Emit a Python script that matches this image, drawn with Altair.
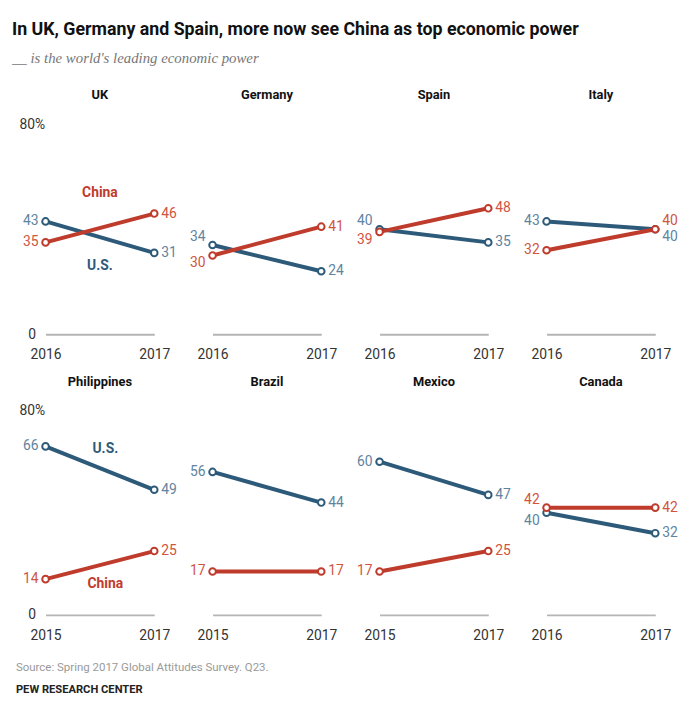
import altair as alt
import pandas as pd

panels = ["UK", "Germany", "Spain", "Italy", "Philippines", "Brazil", "Mexico", "Canada"]
start_year = [2016, 2016, 2016, 2016, 2015, 2015, 2015, 2016]
end_year = 2017
us_start = [43, 34, 40, 43, 66, 56, 60, 40]
us_end = [31, 24, 35, 40, 49, 44, 47, 32]
china_start = [35, 30, 39, 32, 14, 17, 17, 42]
china_end = [46, 41, 48, 40, 25, 17, 25, 42]

ann_panel = ["UK", "UK", "Philippines", "Philippines"]
ann_series = ["China", "U.S.", "U.S.", "China"]
ann_year = [2016.5, 2016.5, 2016.1, 2016.1]
ann_value = [54, 26, 65, 12]

BLUE = "#2E5A7A"
RED = "#BF3B2C"
BLUE_L = "#5F84A0"
RED_L = "#D0553F"
NARROW = "Liberation Sans Narrow, Arial Narrow, Roboto, sans-serif"
BODY = "Liberation Sans Narrow, Roboto, sans-serif"

rows = []
for i, p in enumerate(panels):
    pairs = {
        "start": (start_year[i], us_start[i], china_start[i]),
        "end": (end_year, us_end[i], china_end[i]),
    }
    for side, (yr, u, c) in pairs.items():
        diff = c - u
        if abs(diff) < 5:
            c_n = "up" if diff >= 0 else "down"
            u_n = "down" if diff >= 0 else "up"
        else:
            c_n = u_n = "none"
        rows.append(dict(panel=p, series="U.S.", year=yr, value=u, side=side, nudge=u_n, order=0))
        rows.append(dict(panel=p, series="China", year=yr, value=c, side=side, nudge=c_n, order=1))
df = pd.DataFrame(rows)
ann = pd.DataFrame(dict(panel=ann_panel, series=ann_series, year=ann_year, value=ann_value))

color_scale = alt.Scale(domain=["U.S.", "China"], range=[BLUE, RED])


def panel_chart(i):
    p = panels[i]
    d = df[df.panel == p]
    first_col = i % 4 == 0
    h = 223 if i < 4 else 217
    x = alt.X(
        "year:Q",
        scale=alt.Scale(domain=[start_year[i], end_year], nice=False, zero=False),
        axis=alt.Axis(values=[start_year[i], end_year], format="d", title=None, grid=False,
                      ticks=False, tickSize=0, domainColor="#b5b5b5", domainWidth=2,
                      labelFontSize=14, labelColor="#333", labelPadding=14, labelFlush=False,
                      labelFont=BODY),
    )
    if first_col:
        yaxis = alt.Axis(values=[0, 80], labelExpr="datum.value == 80 ? '80%' : datum.label",
                         title=None, grid=False, ticks=False, tickSize=0, domain=False,
                         labelAlign="center", labelPadding=14, labelFontSize=14,
                         labelColor="#333", labelFont=BODY)
    else:
        yaxis = None
    y = alt.Y("value:Q", scale=alt.Scale(domain=[0, 84], nice=False), axis=yaxis)
    base = alt.Chart(d).encode(
        x=x, y=y,
        color=alt.Color("series:N", scale=color_scale, legend=None),
        order=alt.Order("order:Q"),
    )
    layers = [
        base.mark_line(strokeWidth=4),
        base.mark_point(shape="circle", size=45, strokeWidth=2, fill="white", fillOpacity=1, opacity=1),
    ]
    for side, align, dx in [("start", "right", -7), ("end", "left", 7)]:
        for nudge, dy in [("none", 0), ("up", -8), ("down", 8)]:
            sub = base.transform_filter(
                (alt.datum.side == side) & (alt.datum.nudge == nudge)
            ).mark_text(align=align, baseline="middle", dx=dx, dy=dy, fontSize=14, font=BODY).encode(
                text=alt.Text("value:Q"),
                color=alt.condition(alt.datum.series == "China", alt.value(RED_L), alt.value(BLUE_L)),
            )
            layers.append(sub)
    a = ann[ann.panel == p]
    if len(a):
        layers.append(
            alt.Chart(a).mark_text(fontSize=14, fontWeight="bold", font=NARROW, align="center", baseline="middle").encode(
                x="year:Q", y="value:Q", text="series:N",
                color=alt.Color("series:N", scale=color_scale, legend=None),
            )
        )
    return alt.layer(*layers).properties(
        width=110, height=h,
        title=alt.TitleParams(p, fontSize=13, fontWeight="bold", font=NARROW, color="#111",
                              anchor="middle", offset=12),
    )


charts = [panel_chart(i) for i in range(len(panels))]
grid = alt.concat(
    *charts, columns=4, spacing={"row": 67, "column": 59}, bounds="flush",
    title=alt.TitleParams("Source: Spring 2017 Global Attitudes Survey. Q23.",
                          subtitle="PEW RESEARCH CENTER", orient="bottom", anchor="start",
                          fontSize=11.6, font=NARROW, fontWeight="normal", color="#9a9a9a",
                          subtitleFontSize=11.3, subtitleFont=NARROW, subtitleFontWeight="bold",
                          subtitleColor="#222", subtitlePadding=10, offset=20, dx=-3),
)
chart = alt.vconcat(
    grid,
    title=alt.TitleParams("In UK, Germany and Spain, more now see China as top economic power",
                          subtitle="__ is the world's leading economic power", anchor="start",
                          fontSize=18, font=NARROW, fontWeight="bold", color="#111",
                          subtitleFont="Liberation Serif, DejaVu Serif, serif", subtitleFontStyle="italic",
                          subtitleFontSize=15, subtitleColor="#777", subtitlePadding=13, offset=23, dx=-4),
).configure(padding={"left": 4, "top": 9, "right": 0, "bottom": 0}).configure_view(stroke=None)

chart.save("out.html", embed_options={"renderer": "svg", "actions": False})
